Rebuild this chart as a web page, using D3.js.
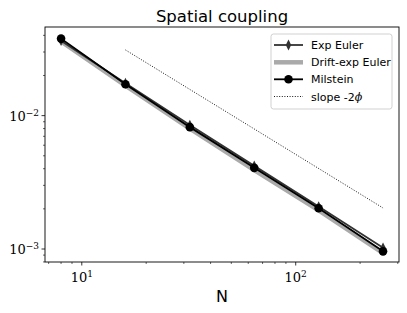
<!DOCTYPE html>
<html><head><meta charset="utf-8">
<script src="https://cdn.jsdelivr.net/npm/d3@7"></script>
<style>body{margin:0;background:#fff}svg{display:block}</style>
</head><body>
<svg id="c" width="407" height="313"></svg>
<script>
const Ns = [8, 16, 32, 64, 128, 256];
const expEuler = [0.0365, 0.0175, 0.0085, 0.0042, 0.00208, 0.00102];
const driftExpEuler = [0.0360, 0.0168, 0.0080, 0.0039, 0.00195, 0.00093];
const milstein = [0.0378, 0.0172, 0.0082, 0.00406, 0.00202, 0.00096];
const slopeN = [16, 256];
const slopeVals = [0.0311, 0.00203];
const xTicks = [10, 100];
const yTicks = [1e-3, 1e-2];
const legendLabels = ["Exp Euler", "Drift-exp Euler", "Milstein", "slope -2\u03D5"];

const svg = d3.select("#c");
const L = 45, R = 399, T = 27, B = 262;
const x = d3.scaleLog().domain([6.73, 304]).range([L, R]);
const y = d3.scaleLog().domain([0.000799, 0.0462]).range([B, T]);

// title
svg.append("text").attr("x", (L+R)/2).attr("y", 22).attr("text-anchor","middle")
  .attr("font-family","DejaVu Sans").attr("font-size",16.5).text("Spatial coupling");
svg.append("text").attr("x", (L+R)/2).attr("y", 302).attr("text-anchor","middle")
  .attr("font-family","DejaVu Sans").attr("font-size",16).text("N");

const serif = "DejaVu Serif";
// x axis ticks
const xMinor = [];
[1,10,100].forEach(d => { for (let k=2;k<10;k++){ const v=d*k; if (v>=x.domain()[0] && v<=x.domain()[1]) xMinor.push(v);} });
const gx = svg.append("g");
xMinor.forEach(v => gx.append("line").attr("x1",x(v)).attr("x2",x(v)).attr("y1",B).attr("y2",B+2).attr("stroke","#000").attr("stroke-width",0.6));
xTicks.forEach(v => {
  gx.append("line").attr("x1",x(v)).attr("x2",x(v)).attr("y1",B).attr("y2",B+3.5).attr("stroke","#000").attr("stroke-width",0.8);
  const t = gx.append("text").attr("x",x(v)).attr("y",282).attr("text-anchor","middle").attr("font-family",serif).attr("font-size",13);
  t.append("tspan").text("10");
  t.append("tspan").attr("dy",-5).attr("font-size",9).text(Math.round(Math.log10(v)));
});
// y axis ticks
const yMinor = [];
[1e-4,1e-3,1e-2].forEach(d => { for (let k=2;k<10;k++){ const v=d*k; if (v>=y.domain()[0] && v<=y.domain()[1]) yMinor.push(v);} });
const gy = svg.append("g");
yMinor.forEach(v => gy.append("line").attr("x1",L-2).attr("x2",L).attr("y1",y(v)).attr("y2",y(v)).attr("stroke","#000").attr("stroke-width",0.6));
yTicks.forEach(v => {
  gy.append("line").attr("x1",L-3.5).attr("x2",L).attr("y1",y(v)).attr("y2",y(v)).attr("stroke","#000").attr("stroke-width",0.8);
  const t = gy.append("text").attr("x",39).attr("y",y(v)+5).attr("text-anchor","end").attr("font-family",serif).attr("font-size",13);
  t.append("tspan").text("10");
  t.append("tspan").attr("dy",-5).attr("font-size",9).text("\u2212" + Math.abs(Math.round(Math.log10(v))));
});

const line = d3.line().x(d=>x(d[0])).y(d=>y(d[1]));
const plot = svg.append("g");
// slope
plot.append("path").datum(slopeN.map((n,i)=>[n,slopeVals[i]])).attr("d",line)
  .attr("fill","none").attr("stroke","#000").attr("stroke-width",0.9).attr("stroke-dasharray","1,1.6");
// drift-exp
plot.append("path").datum(Ns.map((n,i)=>[n,driftExpEuler[i]])).attr("d",line)
  .attr("fill","none").attr("stroke","#aaaaaa").attr("stroke-width",4.5);
// exp euler
const diamond = (cx,cy,s) => `M${cx},${cy-s*1.2}L${cx+s*0.6},${cy}L${cx},${cy+s*1.2}L${cx-s*0.6},${cy}Z`;
plot.append("path").datum(Ns.map((n,i)=>[n,expEuler[i]])).attr("d",line)
  .attr("fill","none").attr("stroke","#333").attr("stroke-width",1.8);
Ns.forEach((n,i)=> plot.append("path").attr("d",diamond(x(n),y(expEuler[i]),4.5)).attr("fill","#333"));
// milstein
plot.append("path").datum(Ns.map((n,i)=>[n,milstein[i]])).attr("d",line)
  .attr("fill","none").attr("stroke","#000").attr("stroke-width",1.8);
Ns.forEach((n,i)=> plot.append("circle").attr("cx",x(n)).attr("cy",y(milstein[i])).attr("r",4.3).attr("fill","#000"));

// frame
svg.append("rect").attr("x",L).attr("y",T).attr("width",R-L).attr("height",B-T)
  .attr("fill","none").attr("stroke","#000").attr("stroke-width",0.9);

// legend
const lg = svg.append("g");
lg.append("rect").attr("x",271).attr("y",34).attr("width",121).attr("height",75).attr("rx",2.5)
  .attr("fill","#fff").attr("fill-opacity",0.8).attr("stroke","#ccc").attr("stroke-width",0.9);
const rows = [45, 62.3, 79.3, 96.5];
const hx1 = 274, hx2 = 303, hm = (hx1+hx2)/2;
lg.append("line").attr("x1",hx1).attr("x2",hx2).attr("y1",rows[0]).attr("y2",rows[0]).attr("stroke","#333").attr("stroke-width",1.8);
lg.append("path").attr("d",diamond(hm,rows[0],4.5)).attr("fill","#333");
lg.append("line").attr("x1",hx1).attr("x2",hx2).attr("y1",rows[1]).attr("y2",rows[1]).attr("stroke","#aaa").attr("stroke-width",4.5);
lg.append("line").attr("x1",hx1).attr("x2",hx2).attr("y1",rows[2]).attr("y2",rows[2]).attr("stroke","#000").attr("stroke-width",1.8);
lg.append("circle").attr("cx",hm).attr("cy",rows[2]).attr("r",4.3).attr("fill","#000");
lg.append("line").attr("x1",hx1).attr("x2",hx2).attr("y1",rows[3]).attr("y2",rows[3]).attr("stroke","#000").attr("stroke-width",0.9).attr("stroke-dasharray","1,1.6");
legendLabels.forEach((t,i)=>{
  const tx = lg.append("text").attr("x",311).attr("y",rows[i]+4).attr("font-family","DejaVu Sans").attr("font-size",11);
  if (i===3){ tx.append("tspan").text("slope -2"); tx.append("tspan").attr("font-family","DejaVu Serif").attr("font-style","italic").text("\u03D5"); }
  else tx.text(t);
});
</script>
</body></html>
